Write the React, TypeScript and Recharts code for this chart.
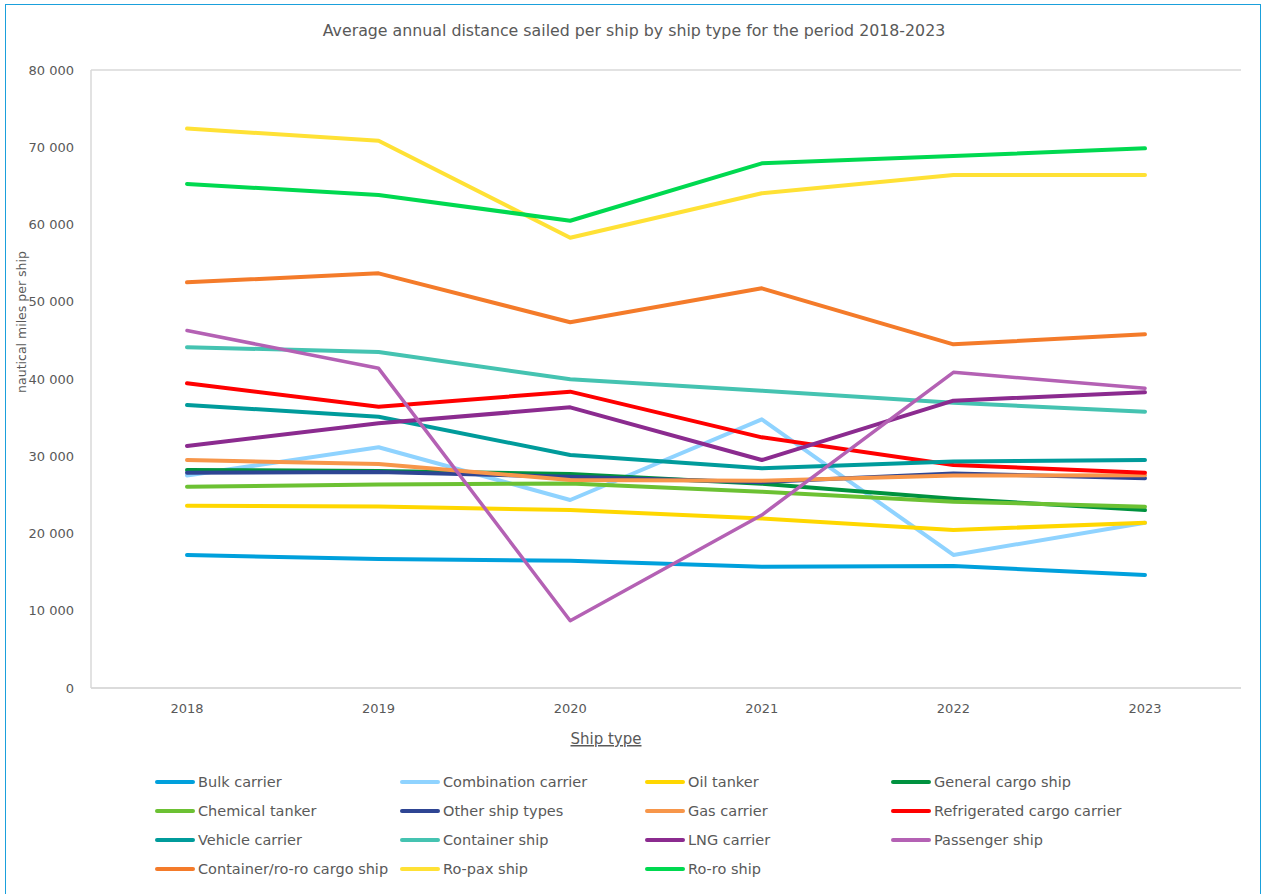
import React from 'react';
import { LineChart, Line, XAxis, YAxis, CartesianGrid, Label } from 'recharts';

const years = ['2018', '2019', '2020', '2021', '2022', '2023'];
const yTicks = [0, 10000, 20000, 30000, 40000, 50000, 60000, 70000, 80000];

const bulkCarrier = [17220, 16700, 16480, 15700, 15790, 14630];
const combinationCarrier = [27500, 31160, 24340, 34780, 17220, 21400];
const oilTanker = [23600, 23480, 23040, 21950, 20450, 21400];
const generalCargoShip = [28220, 28090, 27700, 26450, 24500, 23040];
const chemicalTanker = [26060, 26350, 26480, 25410, 24120, 23470];
const otherShipTypes = [27870, 27950, 27350, 26650, 27780, 27150];
const gasCarrier = [29510, 29000, 26930, 26840, 27500, 27550];
const refrigeratedCargoCarrier = [39440, 36410, 38360, 32450, 28870, 27870];
const vehicleCarrier = [36630, 35120, 30160, 28440, 29320, 29510];
const containerShip = [44120, 43500, 39960, 38490, 36920, 35770];
const lngCarrier = [31330, 34260, 36330, 29510, 37190, 38280];
const passengerShip = [46280, 41380, 8710, 22390, 40870, 38800];
const containerRoRoCargoShip = [52520, 53680, 47340, 51740, 44490, 45790];
const roPaxShip = [72420, 70850, 58290, 64040, 66410, 66410];
const roRoShip = [65240, 63820, 60490, 67920, 68870, 69860];

const seriesNames = [
  'Bulk carrier', 'Combination carrier', 'Oil tanker', 'General cargo ship',
  'Chemical tanker', 'Other ship types', 'Gas carrier', 'Refrigerated cargo carrier',
  'Vehicle carrier', 'Container ship', 'LNG carrier', 'Passenger ship',
  'Container/ro-ro cargo ship', 'Ro-pax ship', 'Ro-ro ship',
];
const seriesValues = [
  bulkCarrier, combinationCarrier, oilTanker, generalCargoShip,
  chemicalTanker, otherShipTypes, gasCarrier, refrigeratedCargoCarrier,
  vehicleCarrier, containerShip, lngCarrier, passengerShip,
  containerRoRoCargoShip, roPaxShip, roRoShip,
];
const seriesColors = [
  '#00A0DC', '#8FD3FF', '#FFD700', '#00923F',
  '#6CC133', '#2E4593', '#F7964A', '#FF0000',
  '#009B9B', '#45C3B1', '#8B2B8F', '#B461B4',
  '#F47B2A', '#FFE135', '#00D950',
];

const data = years.map((y, i) => {
  const row: Record<string, string | number> = { year: y };
  seriesNames.forEach((n, s) => { row[n] = seriesValues[s][i]; });
  return row;
});

const FONT = '"DejaVu Sans", Verdana, sans-serif';
const TEXT = '#595959';
const GRID = '#D9D9D9';

const fmt = (v: number) => String(v).replace(/\B(?=(\d{3})+(?!\d))/g, ' ');

const XLabel = () => (
  <text x={606} y={744} textAnchor="middle" fill={TEXT} fontSize={15} fontFamily={FONT} textDecoration="underline">
    Ship type
  </text>
);

const YLabel = () => (
  <text x={0} y={0} transform="translate(26,322) rotate(-90)" textAnchor="middle" fill={TEXT} fontSize={12.5} fontFamily={FONT}>
    nautical miles per ship
  </text>
);

export default function App() {
  return (
    <div style={{ position: 'absolute', left: 0, top: 0, width: 1266, height: 894, background: '#fff', overflow: 'hidden', fontFamily: FONT }}>
      <div style={{ position: 'absolute', left: 5, top: 4, width: 1256, height: 900, border: '1.5px solid #1AA0DC', boxSizing: 'border-box' }} />
      <div style={{ position: 'absolute', left: 0, top: 21, width: 1268, textAlign: 'center', fontSize: 15.8, color: TEXT }}>
        Average annual distance sailed per ship by ship type for the period 2018-2023
      </div>
      <div style={{ position: 'absolute', left: 0, top: 0 }}>
        <LineChart width={1266} height={894} data={data} margin={{ top: 70, right: 25, bottom: 176, left: 31 }}>
          <CartesianGrid vertical={false} stroke={GRID} strokeWidth={1.5} />
          <XAxis
            dataKey="year"
            padding={{ left: 96, right: 96 }}
            axisLine={{ stroke: GRID, strokeWidth: 1.5 }}
            tickLine={false}
            tickMargin={10}
            height={30}
            tick={{ fill: TEXT, fontSize: 13, fontFamily: FONT }}
          >
            <Label content={<XLabel />} />
          </XAxis>
          <YAxis
            yAxisId="left"
            domain={[0, 80000]}
            ticks={yTicks}
            tickFormatter={fmt}
            width={60}
            axisLine={{ stroke: GRID, strokeWidth: 1.5 }}
            tickLine={false}
            tickMargin={11}
            interval={0}
            tick={{ fill: TEXT, fontSize: 13, fontFamily: FONT }}
          >
            <Label content={<YLabel />} />
          </YAxis>
          <YAxis
            yAxisId="right"
            orientation="right"
            domain={[0, 80000]}
            width={0}
            tick={false}
            tickLine={false}
            axisLine={{ stroke: GRID, strokeWidth: 1.5 }}
          />
          {seriesNames.map((n, i) => (
            <Line
              key={n}
              yAxisId="left"
              type="linear"
              dataKey={n}
              stroke={seriesColors[i]}
              strokeWidth={i === 11 ? 3.5 : 4}
              strokeLinecap="round"
              strokeLinejoin="round"
              dot={false}
              activeDot={false}
              isAnimationActive={false}
            />
          ))}
        </LineChart>
      </div>
      <div style={{ position: 'absolute', left: 155, top: 767, display: 'grid', gridTemplateColumns: '245px 245px 246px 245px', gridAutoRows: '29px' }}>
        {seriesNames.map((n, i) => (
          <div key={n} style={{ display: 'flex', alignItems: 'center', height: 29 }}>
            <span style={{ display: 'inline-block', width: 40, height: 4, borderRadius: 2, background: seriesColors[i], marginRight: 3, flexShrink: 0 }} />
            <span style={{ fontSize: 14.5, color: TEXT, whiteSpace: 'nowrap' }}>{n}</span>
          </div>
        ))}
      </div>
    </div>
  );
}
